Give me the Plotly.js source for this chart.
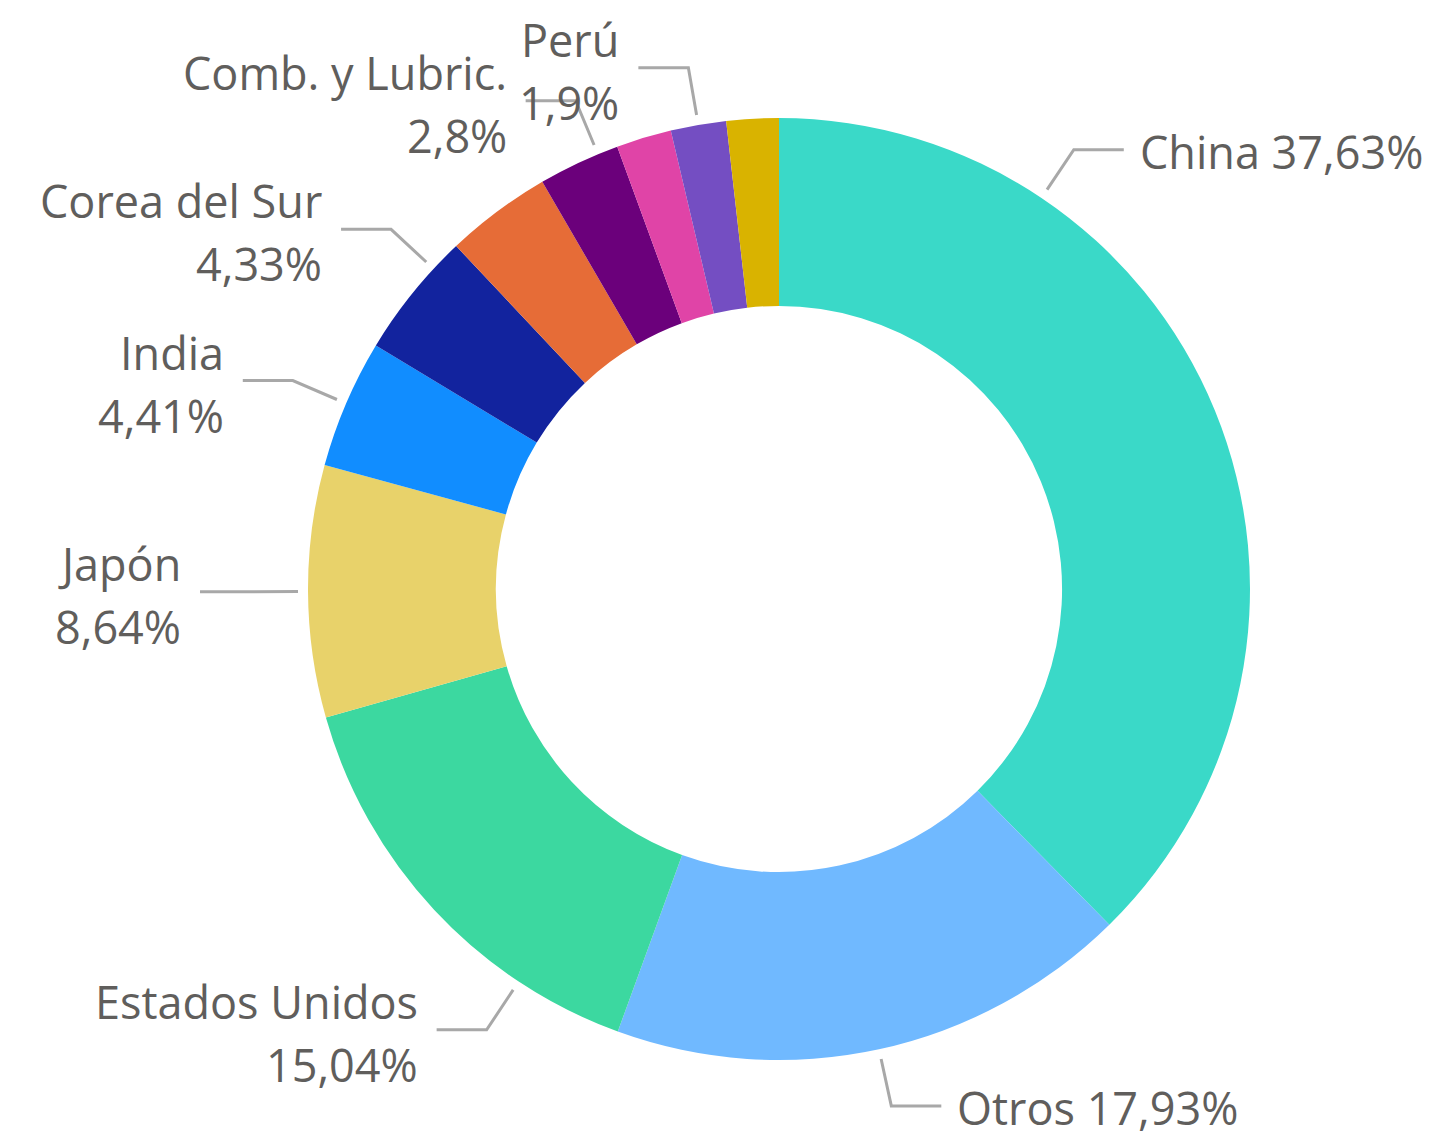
<!DOCTYPE html>
<html>
<head>
<meta charset="utf-8">
<script src="https://cdn.plot.ly/plotly-3.0.1.min.js"></script>
<style>
html,body{margin:0;padding:0;background:#ffffff;}
#chart{width:1429px;height:1134px;}
</style>
</head>
<body>
<div id="chart"></div>
<script>
// ---- data ----
const categories = ["China", "Otros", "Estados Unidos", "Japón", "India", "Corea del Sur",
                    "Sin etiqueta 1", "Comb. y Lubric.", "Sin etiqueta 2", "Perú", "Sin etiqueta 3"];
const shares = [37.63, 17.93, 15.04, 8.64, 4.41, 4.33, 3.64, 2.8, 1.89, 1.9, 1.79];
const labelShown = [true, true, true, true, true, true, false, true, false, true, false];

// ---- style ----
const sliceColors = ["#3AD9C8", "#70B9FF", "#3CD8A0", "#E8D26A", "#118DFF", "#12239E",
                     "#E66C37", "#6B007B", "#E044A7", "#744EC2", "#D9B300"];
const leaderFrac = [0.25, 0.5, 0.25, 0.5, 0.5, 0.75, 0.5, 0.75, 0.5, 0.5, 0.5];

const W = 1429, H = 1134;
const CX = 779, CY = 589, R = 471, HOLE = 0.601;
const TEXT_COLOR = "#605E5C", LINE_COLOR = "#A8A8A8";
const FONT = "Open Sans, Noto Sans, sans-serif", FS = 45;
const LINE_GAP = 63;

const px = x => x / W;
const py = y => 1 - y / H;

function fmtPct(v) {
  let s = v.toFixed(2);
  s = s.replace(/0+$/, "").replace(/\.$/, "");
  return s.replace(".", ",") + "%";
}

const total = shares.reduce((a, b) => a + b, 0);
const shapes = [];
const annotations = [];
let cum = 0;
shares.forEach((v, i) => {
  const a0 = cum / total * 2 * Math.PI;
  cum += v;
  const a1 = cum / total * 2 * Math.PI;
  if (!labelShown[i]) return;
  const th = a0 + leaderFrac[i] * (a1 - a0);
  const s = Math.sin(th), c = Math.cos(th);
  const x1 = CX + (R + 10) * s, y1 = CY - (R + 10) * c;
  const x2 = CX + (R + 58) * s, y2 = CY - (R + 58) * c;
  const right = s >= 0;
  const x3 = right ? x2 + 50 : x2 - 50;
  shapes.push({
    type: "path", xref: "paper", yref: "paper",
    path: `M ${px(x1)},${py(y1)} L ${px(x2)},${py(y2)} L ${px(x3)},${py(y2)}`,
    line: {color: LINE_COLOR, width: 3}
  });
  const pct = fmtPct(v);
  const font = {family: FONT, size: FS, color: TEXT_COLOR};
  if (right) {
    annotations.push({
      xref: "paper", yref: "paper", x: px(x3 + 14), y: py(y2 + 2),
      xanchor: "left", yanchor: "middle", showarrow: false,
      text: categories[i] + " " + pct, font: font
    });
  } else {
    annotations.push({
      xref: "paper", yref: "paper", x: px(x3 - 17), y: py(y2 + 3 - LINE_GAP / 2),
      xanchor: "right", yanchor: "middle", showarrow: false,
      text: categories[i], font: font
    });
    annotations.push({
      xref: "paper", yref: "paper", x: px(x3 - 17), y: py(y2 + 3 + LINE_GAP / 2),
      xanchor: "right", yanchor: "middle", showarrow: false,
      text: pct, font: font
    });
  }
});

const trace = {
  type: "pie",
  labels: categories,
  values: shares,
  sort: false,
  direction: "clockwise",
  rotation: 0,
  hole: HOLE,
  textinfo: "none",
  hoverinfo: "label+percent",
  marker: {colors: sliceColors, line: {width: 0}},
  domain: {x: [px(CX - R), px(CX + R)], y: [py(CY + R), py(CY - R)]},
  showlegend: false
};

const layout = {
  width: W, height: H,
  margin: {l: 0, r: 0, t: 0, b: 0},
  paper_bgcolor: "#ffffff",
  plot_bgcolor: "#ffffff",
  showlegend: false,
  shapes: shapes,
  annotations: annotations,
  font: {family: FONT, color: TEXT_COLOR}
};

Plotly.newPlot("chart", [trace], layout, {displayModeBar: false, responsive: false});
</script>
</body>
</html>
